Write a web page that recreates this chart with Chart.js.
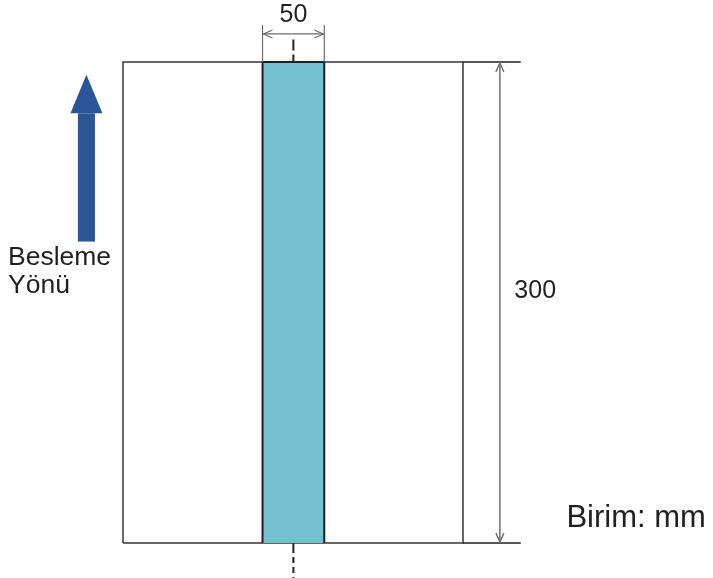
<!DOCTYPE html>
<html>
<head>
<meta charset="utf-8">
<script src="https://cdn.jsdelivr.net/npm/chart.js@4/dist/chart.umd.min.js"></script>
<style>
  body { margin: 0; background: #fff; }
  #wrap { width: 713px; height: 578px; position: relative; }
</style>
</head>
<body>
<div id="wrap"><canvas id="chart"></canvas></div>
<script>
// drawing units (mm-ish), the sheet is drawn 212 x 300
const pageSize = [212, 300];          // width, height
const stripSpan = [87, 125.5];        // left / right edge of the coloured strip
const stripLabel = '50';
const heightLabel = '300';
const feedLabel = ['Besleme', 'Yönü'];
const unitLabel = 'Birim: mm';
const arrowSpan = [188, 268, 292];    // shaft bottom, head base, tip (y)

const INK = '#231f20';
const DIM = '#6d6e71';
const FONT = '"Liberation Sans", Arial, sans-serif';

const W = pageSize[0], H = pageSize[1];
const midX = (stripSpan[0] + stripSpan[1]) / 2;

const pageOutline = [
  {x: 0, y: 0}, {x: 0, y: H}, {x: W, y: H}, {x: W, y: 0}, {x: 0, y: 0}
];
const stripShape = [
  {x: stripSpan[0], y: 0}, {x: stripSpan[0], y: H},
  {x: stripSpan[1], y: H}, {x: stripSpan[1], y: 0}
];

function arrowHead(ctx, x, y, dx, dy) {
  // open V arrowhead pointing in (dx,dy)
  const len = 9, half = 4;
  const px = -dy, py = dx;
  ctx.beginPath();
  ctx.moveTo(x - dx * len + px * half, y - dy * len + py * half);
  ctx.lineTo(x, y);
  ctx.lineTo(x - dx * len - px * half, y - dy * len - py * half);
  ctx.stroke();
}

const annotate = {
  id: 'annotate',
  afterDraw(chart) {
    const {ctx, scales: {x, y}} = chart;
    const X = v => x.getPixelForValue(v);
    const Y = v => y.getPixelForValue(v);
    ctx.save();

    // centre line, dashed above and below the sheet
    ctx.strokeStyle = INK;
    ctx.lineWidth = 2;
    ctx.setLineDash([11, 4]);
    ctx.beginPath();
    ctx.moveTo(X(midX), Y(H + 14));
    ctx.lineTo(X(midX), Y(H));
    ctx.stroke();
    ctx.setLineDash([10, 4, 6, 4, 6, 4]);
    ctx.beginPath();
    ctx.moveTo(X(midX), Y(0));
    ctx.lineTo(X(midX), Y(-22));
    ctx.stroke();
    ctx.setLineDash([]);

    // width dimension of strip
    ctx.strokeStyle = DIM;
    ctx.lineWidth = 1.2;
    ctx.beginPath();
    stripSpan.forEach(sx => {
      ctx.moveTo(X(sx), Y(H + 23));
      ctx.lineTo(X(sx), Y(H));
    });
    const dy = Y(H + 17.5);
    ctx.moveTo(X(stripSpan[0]), dy);
    ctx.lineTo(X(stripSpan[1]), dy);
    ctx.stroke();
    arrowHead(ctx, X(stripSpan[0]) + 1, dy, -1, 0);
    arrowHead(ctx, X(stripSpan[1]) - 1, dy, 1, 0);

    // height dimension on the right
    ctx.strokeStyle = INK;
    ctx.lineWidth = 1.5;
    ctx.beginPath();
    ctx.moveTo(X(W), Y(H)); ctx.lineTo(X(W + 36), Y(H));
    ctx.moveTo(X(W), Y(0)); ctx.lineTo(X(W + 36), Y(0));
    ctx.stroke();
    ctx.strokeStyle = DIM;
    ctx.lineWidth = 1.5;
    const rx = X(W + 23);
    ctx.beginPath();
    ctx.moveTo(rx, Y(H)); ctx.lineTo(rx, Y(0));
    ctx.stroke();
    arrowHead(ctx, rx, Y(H) + 1, 0, -1);
    arrowHead(ctx, rx, Y(0) - 1, 0, 1);

    // feed direction arrow
    const ax = X(-22.8);
    ctx.fillStyle = '#2a5697';
    ctx.fillRect(ax - 8.5, Y(arrowSpan[1]), 17, Y(arrowSpan[0]) - Y(arrowSpan[1]));
    ctx.beginPath();
    ctx.moveTo(ax - 16, Y(arrowSpan[1]));
    ctx.lineTo(ax + 16, Y(arrowSpan[1]));
    ctx.lineTo(ax, Y(arrowSpan[2]));
    ctx.closePath();
    ctx.fill();

    // texts
    ctx.fillStyle = INK;
    ctx.textBaseline = 'alphabetic';
    ctx.font = '25px ' + FONT;
    ctx.textAlign = 'center';
    ctx.fillText(stripLabel, X(midX), Y(H + 25));
    ctx.textAlign = 'left';
    ctx.fillText(heightLabel, X(W + 32), Y(153));
    ctx.font = '26.5px ' + FONT;
    ctx.fillText(feedLabel[0], X(-71.7), Y(173.3));
    ctx.fillText(feedLabel[1], X(-71.7), Y(155.9));
    ctx.font = '31px ' + FONT;
    ctx.fillText(unitLabel, X(276.5), Y(10));

    ctx.restore();
  }
};

new Chart(document.getElementById('chart'), {
  type: 'scatter',
  data: {
    datasets: [
      {
        data: stripShape,
        showLine: true,
        fill: 'origin',
        backgroundColor: '#72c1ce',
        borderColor: INK,
        borderWidth: 2,
        pointRadius: 0,
        tension: 0,
        clip: false
      },
      {
        data: pageOutline,
        showLine: true,
        fill: false,
        borderColor: '#3b3334',
        borderWidth: 1.5,
        pointRadius: 0,
        tension: 0,
        clip: false
      }
    ]
  },
  options: {
    responsive: true,
    maintainAspectRatio: false,
    animation: false,
    layout: { padding: { left: 123, right: 250, top: 62, bottom: 35 } },
    scales: {
      x: { type: 'linear', min: 0, max: W, display: false },
      y: { type: 'linear', min: 0, max: H, display: false }
    },
    plugins: { legend: { display: false }, tooltip: { enabled: false } }
  },
  plugins: [annotate]
});
</script>
</body>
</html>
